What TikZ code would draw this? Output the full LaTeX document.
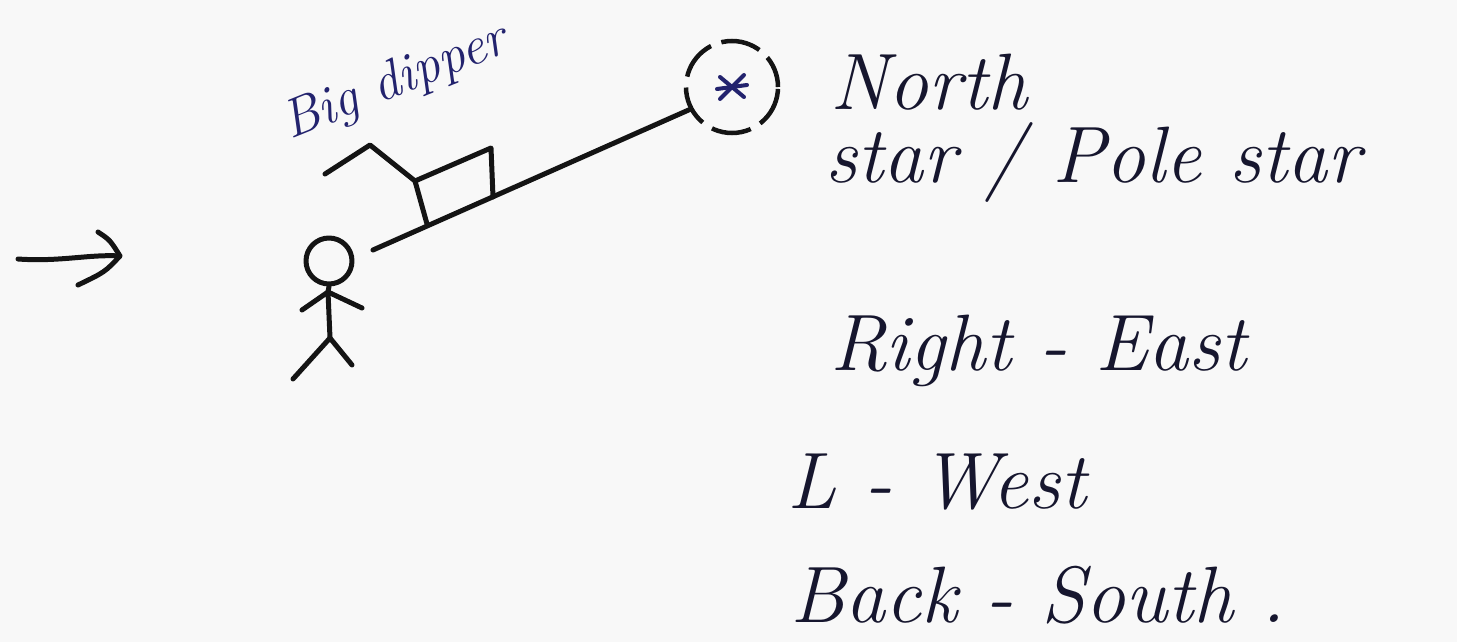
\documentclass[tikz,border=0pt]{standalone}
\usepackage{fontspec}
\begin{document}
\begin{tikzpicture}[x=1pt,y=-1pt,
  ink/.style={line width=5pt, line cap=round, line join=round, draw=black!92},
  hand/.style={inner sep=0pt, anchor=base west, text=textink,
    font=\fontsize{80}{80}\selectfont\itshape},
  bluepen/.style={line width=4pt, line cap=round, draw=blueink}]
\definecolor{paper}{HTML}{F8F8F8}
\definecolor{textink}{HTML}{16162E}
\definecolor{blueink}{HTML}{23236E}
\fill[paper] (0,0) rectangle (1457,642);
\useasboundingbox (0,0) rectangle (1457,642);

% arrow on the left
\coordinate (tail) at (18,259);
\coordinate (tip) at (120,256);
\draw[ink] (tail) .. controls (60,262) and (90,254) .. (tip);
\draw[ink] (98,232) .. controls (110,240) .. (tip) .. controls (105,272) .. (78,285);

% stick figure
\node[ink, circle, minimum size=46pt, inner sep=0pt] (head) at (329,261) {};
\coordinate (neck) at (328,292);
\coordinate (hip) at (330,338);
\draw[ink] (head.south) -- (neck) -- (hip);
\draw[ink] (302,310) -- (neck) -- (362,308);
\draw[ink] (293,379) -- (hip) -- (352,365);

% pole star in a dashed ring
\node[circle, minimum size=92pt, inner sep=0pt, line width=4.5pt, draw=black!92,
  dash pattern=on 40pt off 11pt, dash phase=8pt] (polaris) at (732,87) {};
\draw[bluepen] ([shift={(-12,-10)}]polaris.center) -- ([shift={(12,10)}]polaris.center);
\draw[bluepen] ([shift={(12,-12)}]polaris.center) -- ([shift={(-12,12)}]polaris.center);
\draw[bluepen] ([shift={(-15,2)}]polaris.center) -- ([shift={(15,-2)}]polaris.center);

% line of sight from the observer
\coordinate (eye) at (373,250);
\draw[ink] (eye) -- (polaris.208);

% big dipper: bowl on the sight line, handle to the left
\coordinate (bowlBL) at (427,224);
\coordinate (bowlTL) at (415,181);
\coordinate (bowlTR) at (491,148);
\coordinate (bowlBR) at (493,197);
\draw[ink] (bowlBL) -- (bowlTL) -- (bowlTR) -- (bowlBR);
\draw[ink] (bowlTL) -- (370,145) -- (325,174);

% labels
\node[hand, text=blueink, font=\fontsize{54}{54}\selectfont\itshape, rotate=22]
  (dipperlbl) at (290,140) {Big dipper};
\node[hand] (north) at (830,110) {North};
\node[hand] (polestar) at (825,182) {star / Pole star};
\node[hand] (east) at (830,370) {Right - East};
\node[hand] (west) at (787,508) {L - West};
\node[hand] (south) at (790,622) {Back - South .};
\end{tikzpicture}
\end{document}
